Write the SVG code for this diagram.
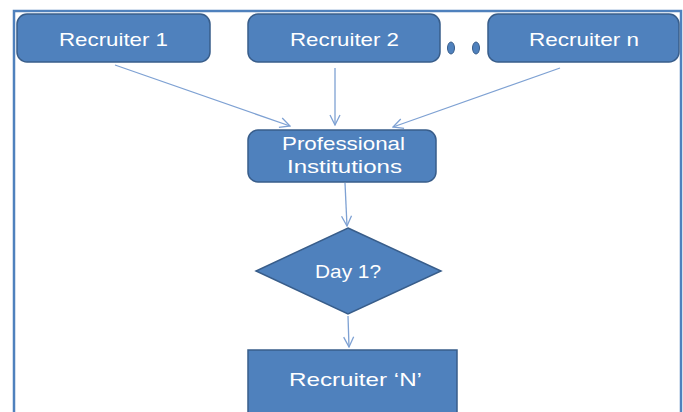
<svg xmlns="http://www.w3.org/2000/svg" width="683" height="412" viewBox="0 0 683 412">
<style>
.box{fill:#4F81BD;stroke:#385D8A;stroke-width:1.5}
.t{font-family:"Liberation Sans",Arial,sans-serif;font-size:19px;fill:#FFFFFF;text-anchor:middle}
.c{stroke:#7EA1D3;stroke-width:1.3;fill:none;marker-end:url(#ah)}
</style>
<defs>
<marker id="ah" viewBox="0 0 12 12" refX="11" refY="6" markerWidth="12" markerHeight="12" markerUnits="userSpaceOnUse" orient="auto">
<path d="M1,1 L11,6 L1,11" fill="none" stroke="#7EA1D3" stroke-width="1.3"/>
</marker>
</defs>
<rect width="683" height="412" fill="#FFFFFF"/>
<rect x="14" y="11" width="667" height="410" fill="none" stroke="#4F81BD" stroke-width="2.5"/>
<g id="connectors">
<line class="c" x1="115" y1="65" x2="290" y2="126"/>
<line class="c" x1="335" y1="68" x2="335" y2="125"/>
<line class="c" x1="560" y1="68" x2="393" y2="127"/>
<line class="c" x1="345" y1="183" x2="347" y2="226"/>
<line class="c" x1="348" y1="316" x2="349" y2="347"/>
</g>
<g id="recruiter1">
<rect class="box" x="17" y="14" width="193" height="48" rx="10"/>
<text class="t" x="113.5" y="46" textLength="109" lengthAdjust="spacingAndGlyphs">Recruiter 1</text>
</g>
<g id="recruiter2">
<rect class="box" x="248" y="14" width="192" height="48" rx="10"/>
<text class="t" x="344.5" y="46" textLength="109" lengthAdjust="spacingAndGlyphs">Recruiter 2</text>
</g>
<g id="dots">
<ellipse cx="451" cy="48" rx="3.5" ry="6" fill="#4F81BD" stroke="#385D8A"/>
<ellipse cx="476" cy="48" rx="3.5" ry="6" fill="#4F81BD" stroke="#385D8A"/>
</g>
<g id="recruitern">
<rect class="box" x="488" y="14" width="191" height="48" rx="10"/>
<text class="t" x="584" y="46" textLength="110" lengthAdjust="spacingAndGlyphs">Recruiter n</text>
</g>
<g id="institutions">
<rect class="box" x="248" y="130" width="188" height="52" rx="10"/>
<text class="t" x="343.5" y="150" textLength="123" lengthAdjust="spacingAndGlyphs">Professional</text>
<text class="t" x="344.5" y="173" textLength="115" lengthAdjust="spacingAndGlyphs">Institutions</text>
</g>
<g id="day1">
<polygon class="box" points="348,228 441,271 348,314 256,271"/>
<text class="t" x="348" y="278" textLength="66" lengthAdjust="spacingAndGlyphs">Day 1?</text>
</g>
<g id="recruiterN">
<rect class="box" x="248" y="350" width="209" height="80"/>
<text class="t" x="355.5" y="386" textLength="133" lengthAdjust="spacingAndGlyphs">Recruiter ‘N’</text>
</g>
</svg>
